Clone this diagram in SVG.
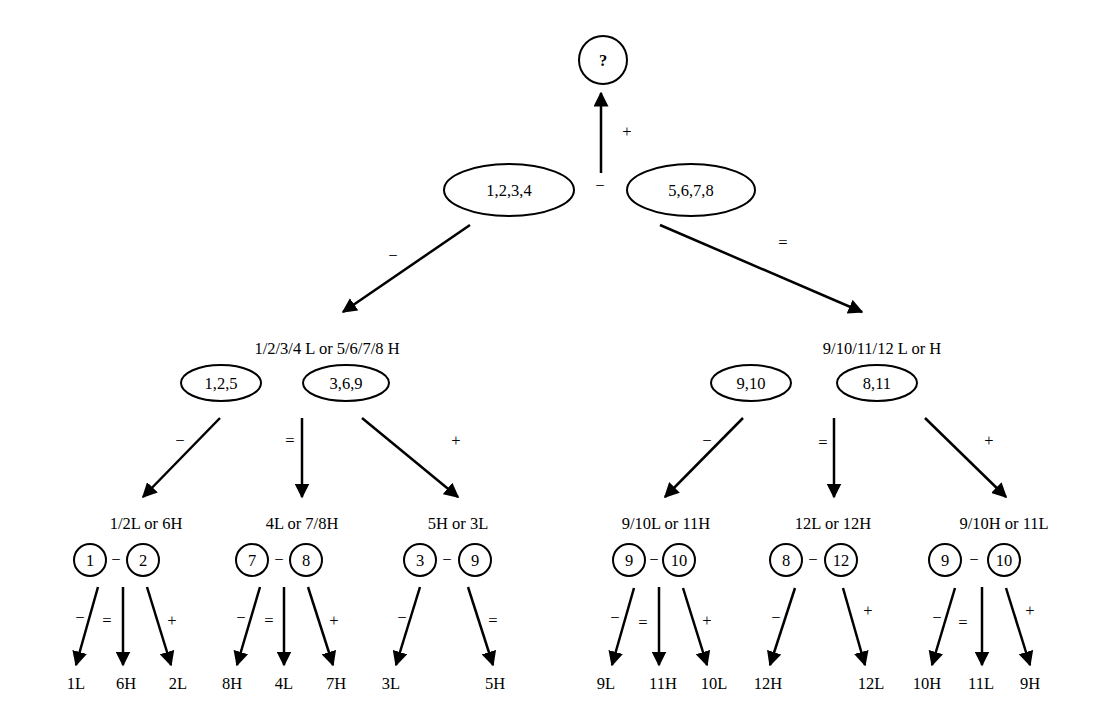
<svg xmlns="http://www.w3.org/2000/svg" width="1101" height="725" viewBox="0 0 1101 725">
<style>
text{font-family:"Liberation Serif",serif;font-size:16.5px;fill:#000;text-anchor:middle;dominant-baseline:central}
.n{fill:#fff;stroke:#000;stroke-width:2}
.c line{stroke:#000;stroke-width:2.5;marker-end:url(#a)}
</style>
<defs><marker id="a" viewBox="0 0 10 10" refX="9" refY="5" markerWidth="6" markerHeight="6" markerUnits="strokeWidth" orient="auto"><path d="M0,0L10,5L0,10z" fill="#000"/></marker></defs>
<rect width="1101" height="725" fill="#fff"/>
<g class="c" id="connectors">
<line x1="601" y1="173" x2="601" y2="93"/>
<line x1="470" y1="225" x2="343" y2="312"/>
<line x1="660" y1="225" x2="862" y2="312"/>
<line x1="220" y1="418" x2="143" y2="497"/>
<line x1="302" y1="418" x2="302" y2="497"/>
<line x1="362" y1="418" x2="458" y2="497"/>
<line x1="743" y1="418" x2="665" y2="497"/>
<line x1="834" y1="418" x2="834" y2="497"/>
<line x1="925" y1="418" x2="1006" y2="497"/>
<line x1="98" y1="587" x2="76" y2="665"/>
<line x1="123" y1="587" x2="123" y2="665"/>
<line x1="147" y1="587" x2="171" y2="665"/>
<line x1="260" y1="587" x2="237" y2="665"/>
<line x1="284" y1="587" x2="284" y2="665"/>
<line x1="308" y1="587" x2="333" y2="665"/>
<line x1="420" y1="587" x2="396" y2="665"/>
<line x1="468" y1="587" x2="493" y2="665"/>
<line x1="634" y1="588" x2="612" y2="665"/>
<line x1="659" y1="587" x2="659" y2="665"/>
<line x1="683" y1="588" x2="707" y2="665"/>
<line x1="795" y1="588" x2="770" y2="665"/>
<line x1="843" y1="588" x2="865" y2="665"/>
<line x1="955" y1="588" x2="932" y2="665"/>
<line x1="982" y1="587" x2="982" y2="665"/>
<line x1="1006" y1="588" x2="1030" y2="665"/>
</g>
<g id="labels">
<text x="627" y="131">+</text><text x="600" y="185">−</text>
<text x="393" y="255">−</text><text x="783" y="242">=</text>
<text x="180" y="440">−</text><text x="290" y="440">=</text><text x="456" y="440">+</text>
<text x="707" y="440">−</text><text x="823" y="442">=</text><text x="989" y="440">+</text>
<text x="80" y="617">−</text><text x="107" y="620">=</text><text x="172" y="620">+</text>
<text x="241" y="617">−</text><text x="269" y="620">=</text><text x="334" y="620">+</text>
<text x="402" y="617">−</text><text x="493" y="620">=</text>
<text x="615" y="617">−</text><text x="643" y="622">=</text><text x="707" y="620">+</text>
<text x="776" y="617">−</text><text x="868" y="610">+</text>
<text x="937" y="617">−</text><text x="963" y="622">=</text><text x="1030" y="610">+</text>
<text x="327" y="348">1/2/3/4 L or 5/6/7/8 H</text>
<text x="882" y="348">9/10/11/12 L or H</text>
<text x="315" y="383">−</text><text x="846" y="383">−</text>
<text x="146" y="523">1/2L or 6H</text><text x="302" y="523">4L or 7/8H</text><text x="458" y="523">5H or 3L</text>
<text x="666" y="523">9/10L or 11H</text><text x="833" y="523">12L or 12H</text><text x="1004" y="523">9/10H or 11L</text>
<text x="116" y="559">−</text><text x="279" y="559">−</text><text x="447" y="559">−</text>
<text x="654" y="559">−</text><text x="813" y="559">−</text><text x="974" y="559">−</text>
<text x="76" y="683">1L</text><text x="126" y="683">6H</text><text x="178" y="683">2L</text>
<text x="232" y="683">8H</text><text x="284" y="683">4L</text><text x="336" y="683">7H</text>
<text x="391" y="683">3L</text><text x="495" y="683">5H</text>
<text x="606" y="683">9L</text><text x="663" y="683">11H</text><text x="714" y="683">10L</text>
<text x="768" y="683">12H</text><text x="871" y="683">12L</text>
<text x="927" y="683">10H</text><text x="981" y="683">11L</text><text x="1030" y="683">9H</text>
</g>
<g id="q"><circle class="n" cx="603" cy="60" r="24"/><text x="603" y="60" font-weight="bold">?</text></g>
<g id="e1234"><ellipse class="n" cx="509" cy="190" rx="65" ry="26"/><text x="509" y="190">1,2,3,4</text></g>
<g id="e5678"><ellipse class="n" cx="691" cy="190" rx="64" ry="26"/><text x="691" y="190">5,6,7,8</text></g>
<g id="e125"><ellipse class="n" cx="221" cy="383" rx="40" ry="18"/><text x="221" y="383">1,2,5</text></g>
<g id="e369"><ellipse class="n" cx="346" cy="383" rx="43" ry="18"/><text x="346" y="383">3,6,9</text></g>
<g id="e910"><ellipse class="n" cx="751" cy="383" rx="40" ry="18"/><text x="751" y="383">9,10</text></g>
<g id="e811"><ellipse class="n" cx="877" cy="383" rx="40" ry="18"/><text x="877" y="383">8,11</text></g>
<g id="c1"><circle class="n" cx="90" cy="560" r="16"/><text x="90" y="560">1</text></g>
<g id="c2"><circle class="n" cx="143" cy="560" r="16"/><text x="143" y="560">2</text></g>
<g id="c7"><circle class="n" cx="252" cy="560" r="16"/><text x="252" y="560">7</text></g>
<g id="c8"><circle class="n" cx="306" cy="560" r="16"/><text x="306" y="560">8</text></g>
<g id="c3"><circle class="n" cx="420" cy="560" r="16"/><text x="420" y="560">3</text></g>
<g id="c9"><circle class="n" cx="475" cy="560" r="16"/><text x="475" y="560">9</text></g>
<g id="c9b"><circle class="n" cx="629" cy="560" r="16"/><text x="629" y="560">9</text></g>
<g id="c10"><circle class="n" cx="679" cy="560" r="16"/><text x="679" y="560">10</text></g>
<g id="c8b"><circle class="n" cx="786" cy="560" r="16"/><text x="786" y="560">8</text></g>
<g id="c12"><circle class="n" cx="841" cy="560" r="16"/><text x="841" y="560">12</text></g>
<g id="c9c"><circle class="n" cx="945" cy="560" r="16"/><text x="945" y="560">9</text></g>
<g id="c10b"><circle class="n" cx="1004" cy="560" r="16"/><text x="1004" y="560">10</text></g>
</svg>
